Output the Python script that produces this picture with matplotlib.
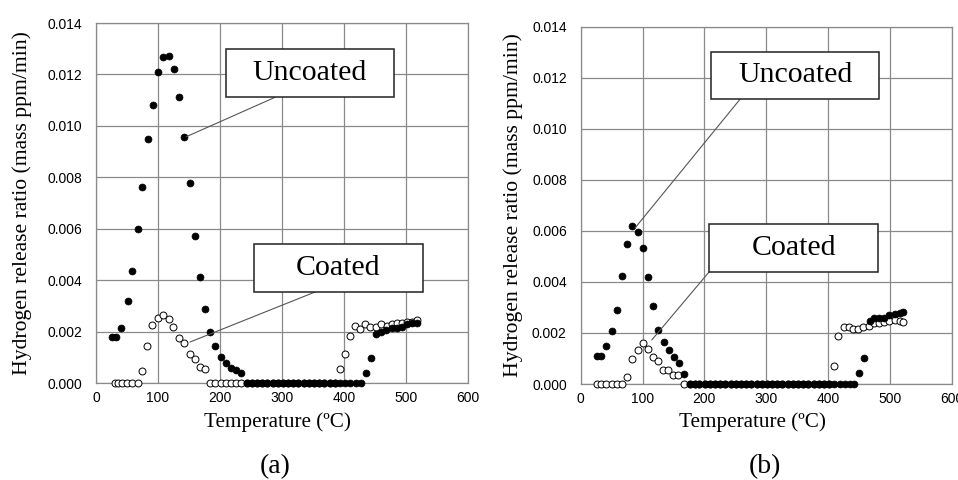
import matplotlib
matplotlib.use("Agg")
import matplotlib.pyplot as plt
from matplotlib.patches import Rectangle
from matplotlib.ticker import FormatStrFormatter

# ---- data (temperature in degC, release ratio in mass ppm/min) ----
# panel (a)
a_uncoated_t = [26, 32, 41, 51, 58, 67, 75, 84, 92, 100, 108, 117, 126, 134, 142, 151,
                159, 167, 176, 184, 192, 201, 209, 217, 226, 234,
                243, 251, 259, 268, 276, 285, 293, 301, 310, 318,
                326, 335, 343, 352, 360, 368, 377, 385, 394, 402,
                410, 419, 427,
                435, 443, 451, 459, 468, 477, 485, 493, 501, 510, 518]
a_uncoated_v = [0.00178, 0.00178, 0.00215, 0.00319, 0.00436, 0.00599, 0.00761, 0.00950,
                0.01082, 0.01209, 0.01267, 0.01270, 0.01222, 0.01114, 0.00955, 0.00779,
                0.00573, 0.00414, 0.00287, 0.00197, 0.00144, 0.00102, 0.00077, 0.00060,
                0.00050, 0.00040,
                0, 0, 0, 0, 0, 0, 0, 0, 0, 0,
                0, 0, 0, 0, 0, 0, 0, 0, 0, 0,
                0, 0, 0,
                0.00040, 0.00096, 0.00190, 0.00200, 0.00206, 0.00213, 0.00215, 0.00219,
                0.00228, 0.00232, 0.00235]

a_coated_t = [30, 35, 42, 50, 58, 67, 75, 83, 91, 100, 108, 117, 125, 134, 142, 151,
              159, 167, 176,
              184, 192, 201, 209, 217, 226, 234, 243, 251, 259,
              268, 276, 285, 293, 301, 310, 318, 326, 335, 343,
              352, 360, 368, 377, 385,
              393, 401, 409, 417, 426, 434, 442, 451, 460, 469, 477, 485, 493, 501,
              510, 518]
a_coated_v = [0, 0, 0, 0, 0, 0, 0.00048, 0.00144, 0.00226, 0.00254, 0.00263, 0.00248,
              0.00217, 0.00176, 0.00157, 0.00113, 0.00092, 0.00063, 0.00053,
              0, 0, 0, 0, 0, 0, 0, 0, 0, 0,
              0, 0, 0, 0, 0, 0, 0, 0, 0, 0,
              0, 0, 0, 0, 0,
              0.00053, 0.00114, 0.00182, 0.00222, 0.00211, 0.00230, 0.00219, 0.00219,
              0.00230, 0.00222, 0.00230, 0.00232, 0.00232, 0.00239, 0.00239, 0.00245]

# panel (b)
b_uncoated_t = [26, 33, 41, 50, 58, 67, 75, 83, 92, 100, 108, 117, 125, 134, 142, 151,
                159, 167,
                176, 184, 192, 201, 209, 217, 226, 234, 243, 251,
                259, 268, 276, 285, 293, 301, 310, 318, 326, 335,
                343, 352, 360, 368, 377, 385, 394, 402, 410, 419,
                427, 435, 442,
                450, 458, 467, 474, 483, 491, 499, 508, 516, 521]
b_uncoated_v = [0.00110, 0.00110, 0.00149, 0.00208, 0.00289, 0.00422, 0.00549, 0.00620,
                0.00596, 0.00533, 0.00421, 0.00306, 0.00212, 0.00163, 0.00133, 0.00107,
                0.00084, 0.00039,
                0, 0, 0, 0, 0, 0, 0, 0, 0, 0,
                0, 0, 0, 0, 0, 0, 0, 0, 0, 0,
                0, 0, 0, 0, 0, 0, 0, 0, 0, 0,
                0, 0, 0,
                0.00044, 0.00103, 0.00247, 0.00258, 0.00260, 0.00258, 0.00270, 0.00274,
                0.00280, 0.00284]

b_coated_t = [26, 33, 41, 50, 58, 66, 75, 83, 92, 100, 108, 117, 125, 133, 141, 150,
              158,
              167, 176, 184, 192, 201, 209, 217, 226, 234, 243,
              251, 259, 268, 276, 285, 293, 301, 310, 318, 326,
              335, 343, 352, 360, 368, 377, 385, 394, 401,
              409, 416, 425, 433, 441, 449, 457, 466, 474, 483, 491, 499, 508, 516, 521]
b_coated_v = [0, 0, 0, 0, 0, 0, 0.00029, 0.00097, 0.00133, 0.00162, 0.00137, 0.00107,
              0.00090, 0.00055, 0.00055, 0.00034, 0.00034,
              0, 0, 0, 0, 0, 0, 0, 0, 0, 0,
              0, 0, 0, 0, 0, 0, 0, 0, 0, 0,
              0, 0, 0, 0, 0, 0, 0, 0, 0,
              0.00070, 0.00190, 0.00222, 0.00224, 0.00214, 0.00215, 0.00222, 0.00229,
              0.00238, 0.00240, 0.00244, 0.00246, 0.00251, 0.00246, 0.00244]

x_ticks = [0, 100, 200, 300, 400, 500, 600]
y_ticks = [0.000, 0.002, 0.004, 0.006, 0.008, 0.010, 0.012, 0.014]

SERIF = "Liberation Serif"
SANS = "Liberation Sans"
GRID = "#8a8a8a"


def draw_panel(ax, unc_t, unc_v, coat_t, coat_v, ylab_x, xlab_x):
    ax.set_xlim(0, 600)
    ax.set_ylim(0, 0.014)
    ax.set_xticks(x_ticks)
    ax.set_yticks(y_ticks)
    ax.yaxis.set_major_formatter(FormatStrFormatter("%.3f"))
    ax.tick_params(length=0, labelsize=10)
    ax.tick_params(axis="y", pad=10)
    ax.tick_params(axis="x", pad=6)
    for lab in ax.get_xticklabels() + ax.get_yticklabels():
        lab.set_fontfamily(SANS)

    ax.grid(True, color=GRID, linewidth=0.9)
    ax.set_axisbelow(True)
    for sp in ax.spines.values():
        sp.set_color(GRID)
        sp.set_linewidth(0.9)

    # open circles first, filled ones on top
    ax.plot(coat_t, coat_v, "o", ms=5, mfc="white", mec="black", mew=0.7,
            clip_on=False, zorder=3)
    ax.plot(unc_t, unc_v, "o", ms=5, mfc="black", mec="black", mew=0.5,
            clip_on=False, zorder=4)

    ax.set_xlabel("Temperature (ºC)", fontsize=15.2, family=SERIF)
    ax.xaxis.set_label_coords(xlab_x, -0.1075)
    ax.xaxis.label.set_va("center")
    ax.set_ylabel("Hydrogen release ratio (mass ppm/min)", fontsize=15.6, family=SERIF)
    ax.yaxis.set_label_coords(ylab_x, 0.5)
    ax.yaxis.label.set_va("center")


def label_box(ax, text, box, start, end):
    # box = (x0, y0, x1, y1) in axes fraction; leader from start to end
    ax.annotate("", xy=end, xytext=start, xycoords="axes fraction",
                textcoords="axes fraction",
                arrowprops=dict(arrowstyle="-", color="#555555", lw=0.8,
                                shrinkA=0, shrinkB=0), zorder=5)
    x0, y0, x1, y1 = box
    ax.add_patch(Rectangle((x0, y0), x1 - x0, y1 - y0, transform=ax.transAxes,
                           facecolor="white", edgecolor="#222222", lw=1.1,
                           clip_on=False, zorder=6))
    ax.text((x0 + x1) / 2, (y0 + y1) / 2, text, transform=ax.transAxes,
            ha="center", va="center", fontsize=21.5, family=SERIF, zorder=7)


fig = plt.figure(figsize=(9.58, 4.8), dpi=100)
ax_a = fig.add_axes([0.1002, 0.202, 0.3883, 0.75])
ax_b = fig.add_axes([0.6062, 0.2, 0.3873, 0.744])

draw_panel(ax_a, a_uncoated_t, a_uncoated_v, a_coated_t, a_coated_v, -0.199, 0.488)
draw_panel(ax_b, b_uncoated_t, b_uncoated_v, b_coated_t, b_coated_v, -0.1825, 0.464)

label_box(ax_a, "Uncoated", (0.3495, 0.7944, 0.801, 0.9278), (0.481, 0.7936), (0.2427, 0.6842))
label_box(ax_a, "Coated", (0.4247, 0.2528, 0.879, 0.386), (0.5887, 0.2528), (0.2527, 0.1139))
label_box(ax_b, "Uncoated", (0.3512, 0.7975, 0.804, 0.9308), (0.4294, 0.7975), (0.1464, 0.437))
label_box(ax_b, "Coated", (0.3458, 0.3137, 0.8013, 0.4482), (0.3466, 0.3146), (0.1914, 0.1232))

fig.text(275 / 958, 1 - 466.7 / 480, "(a)", fontsize=20, family=SERIF, ha="center", va="center")
fig.text(765 / 958, 1 - 466.7 / 480, "(b)", fontsize=20, family=SERIF, ha="center", va="center")

fig.savefig("out.png", dpi=100)
